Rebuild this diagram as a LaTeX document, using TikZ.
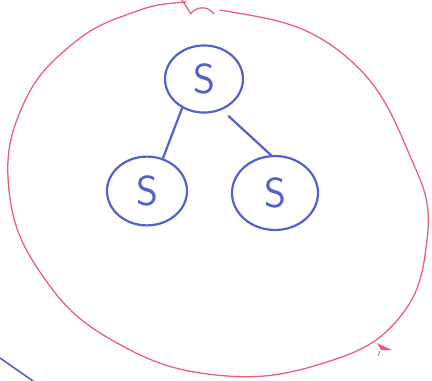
\documentclass[tikz,border=0pt]{standalone}
\usepackage{tikz}
\usetikzlibrary{shapes.geometric, positioning}
\definecolor{penblue}{HTML}{5361CC}
\definecolor{penred}{HTML}{EC5F77}

\begin{document}
\begin{tikzpicture}[
    x=1pt, y=-1pt,
    snode/.style={
        draw=penblue, line width=2.2pt,
        ellipse, inner sep=0pt,
        minimum width=#1, minimum height=0.86*#1,
        text=penblue, font=\sffamily\fontsize{42}{42}\selectfont,
    },
    link/.style={draw=penblue, line width=2.2pt, line cap=round},
    redpen/.style={draw=penred, line width=1.3pt, line cap=round},
]
\useasboundingbox (0,0) rectangle (432,381);

% outer boundary
\draw[redpen] (220,10) to[out=-10,in=141] (343,54) to[out=-39,in=114] (417,172)
    to[out=-66,in=83] (427,240) to[out=-97,in=51] (400,317)
    to[out=-129,in=18] (330,361) to[out=-162,in=-6] (216,375)
    to[out=174,in=-30] (110,339) to[out=150,in=-56] (40,272)
    to[out=124,in=-84] (9,190) to[out=96,in=-114] (23,105)
    to[out=66,in=-141] (75,42) to[out=39,in=-160] (140,10)
    to[out=20,in=-175] (186,2);
\draw[redpen] (182,0) -- (191,14);
\draw[redpen] (191,13) .. controls (198,6) and (208,6) .. (214,14);
\fill[penred] (377,343) -- (392,350) -- (381,350) -- cycle;
\draw[redpen, line width=0.8pt] (380,351) -- (378,356);

% tree
\node[snode=78pt] (top) at (204,79) {S};
\node[snode=80pt] (left) at (147,191) {S};
\node[snode=86pt] (right) at (275,193) {S};

\draw[link] (top.233) -- (left.64);
\draw[link, shorten <=9pt] (top.300) -- (right.96);

% stray stroke
\draw[link, line width=1.6pt] (0,358) -- (33,381);

\end{tikzpicture}
\end{document}
